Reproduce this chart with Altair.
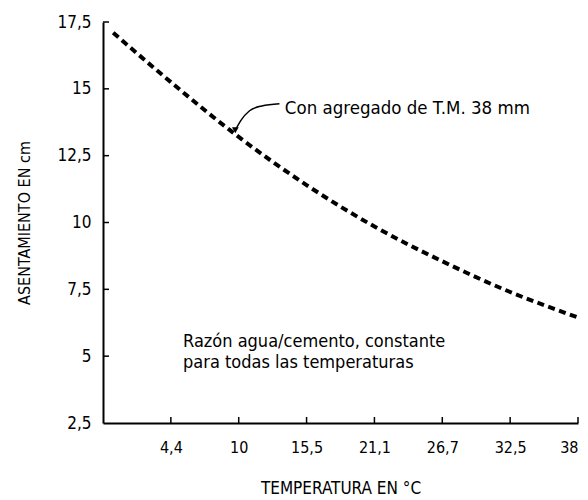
import altair as alt
import pandas as pd

# Curve data (x = equally spaced tick index; 0 = origin, 1..7 = labelled ticks)
curve_x = [0.15, 1, 2, 3, 4, 5, 6, 7]
curve_y = [17.1, 15.25, 13.2, 11.4, 9.85, 8.55, 7.4, 6.45]

x_tick_pos = [1, 2, 3, 4, 5, 6, 7]
x_tick_labels = ["", "4,4", "10", "15,5", "21,1", "26,7", "32,5", "38"]
y_tick_vals = [2.5, 5, 7.5, 10, 12.5, 15, 17.5]

# annotation
note1_text = ["Con agregado de T.M. 38 mm"]
note1_x = [2.68]
note1_y = [14.29]
arrow_x = [2.60, 2.34, 2.16, 2.03, 1.96]
arrow_y = [14.44, 14.36, 14.18, 13.81, 13.50]
arrow_tip_x = [1.95]
arrow_tip_y = [13.45]
note2_text = ["Razón agua/cemento, constante", "para todas las temperaturas"]
note2_x = [1.18, 1.18]
note2_y = [5.52, 4.74]

W, H = 475, 401
FONT = "DejaVu Sans Condensed, Roboto, sans-serif"

xscale = alt.Scale(domain=[0, 7], nice=False, zero=False)
yscale = alt.Scale(domain=[2.5, 17.5], nice=False, zero=False)

label_expr = "[" + ",".join("'" + s + "'" for s in x_tick_labels) + "][datum.value]"

curve_df = pd.DataFrame({"x": curve_x, "y": curve_y})

base_curve = alt.Chart(curve_df).mark_line(
    color="black", strokeWidth=4, strokeDash=[7, 4.5], interpolate="monotone"
).encode(
    x=alt.X("x:Q", scale=xscale,
            axis=alt.Axis(values=x_tick_pos, labelExpr=label_expr, ticks=False, tickSize=0,
                          labelPadding=16, labelFontSize=16, labelFont=FONT, labelColor="black",
                          domainColor="black", domainWidth=2, grid=False,
                          title="TEMPERATURA EN °C", titleFont=FONT, titleFontSize=17,
                          titleFontWeight="normal", titleColor="black",
                          titleX=W / 2, titleY=65, titleBaseline="middle", titleAlign="center")),
    y=alt.Y("y:Q", scale=yscale,
            axis=alt.Axis(values=y_tick_vals,
                          labelExpr="replace(toString(datum.value), '.', ',')",
                          ticks=False, tickSize=0, labelPadding=12, labelFontSize=17,
                          labelFont=FONT, labelColor="black",
                          domainColor="black", domainWidth=2, grid=False,
                          title="ASENTAMIENTO EN cm", titleFont=FONT, titleFontSize=16,
                          titleFontWeight="normal", titleColor="black",
                          titleX=-79, titleY=H / 2, titleAngle=-90,
                          titleBaseline="middle", titleAlign="center")),
)

ytick_df = pd.DataFrame({"y": y_tick_vals[1:]})
yticks = alt.Chart(ytick_df).mark_rule(color="black", strokeWidth=1.5).encode(
    y=alt.Y("y:Q", scale=yscale), x=alt.value(0), x2=alt.value(6)
)
xtick_df = pd.DataFrame({"x": x_tick_pos})
xticks = alt.Chart(xtick_df).mark_rule(color="black", strokeWidth=1.5).encode(
    x=alt.X("x:Q", scale=xscale), y=alt.value(H), y2=alt.value(H - 6)
)

note1 = alt.Chart(pd.DataFrame({"x": note1_x, "y": note1_y, "t": note1_text})).mark_text(
    align="left", baseline="middle", font=FONT, fontSize=18.5, color="black"
).encode(x=alt.X("x:Q", scale=xscale), y=alt.Y("y:Q", scale=yscale), text="t:N")

arrow = alt.Chart(pd.DataFrame({"x": arrow_x, "y": arrow_y, "o": list(range(len(arrow_x)))})).mark_line(
    color="black", strokeWidth=1.5, interpolate="monotone"
).encode(x=alt.X("x:Q", scale=xscale), y=alt.Y("y:Q", scale=yscale), order="o:O")

tip = alt.Chart(pd.DataFrame({"x": arrow_tip_x, "y": arrow_tip_y})).mark_point(
    shape="triangle-down", filled=True, color="black", size=45, opacity=1
).encode(x=alt.X("x:Q", scale=xscale), y=alt.Y("y:Q", scale=yscale))

note2 = alt.Chart(pd.DataFrame({"x": note2_x, "y": note2_y, "t": note2_text})).mark_text(
    align="left", baseline="middle", font=FONT, fontSize=18, color="black"
).encode(x=alt.X("x:Q", scale=xscale), y=alt.Y("y:Q", scale=yscale), text="t:N")

chart = alt.layer(base_curve, yticks, xticks, arrow, tip, note1, note2).properties(
    width=W, height=H,
    autosize=alt.AutoSizeParams(type="none"),
    padding={"left": 103, "top": 22, "right": 10, "bottom": 77},
    background="white",
).configure_view(stroke=None)

chart.save("out.html", embed_options={"renderer": "svg", "actions": False})
